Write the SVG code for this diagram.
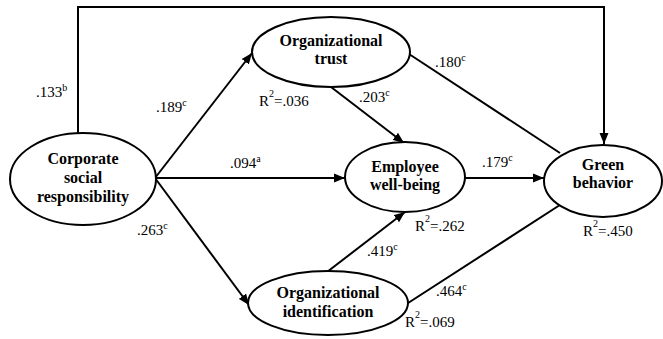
<svg xmlns="http://www.w3.org/2000/svg" width="663" height="339" viewBox="0 0 663 339">
<style>
.node ellipse{fill:#fff;stroke:#000;stroke-width:2}
.node text{font-family:'Times New Roman',Times,'Liberation Serif','Noto Serif',Tinos,FreeSerif,serif;font-weight:bold;font-size:16px;text-anchor:middle;fill:#000}
.lbl{font-family:'Times New Roman',Times,'Liberation Serif','Noto Serif',Tinos,FreeSerif,serif;font-size:15px;fill:#000}
.sup{font-size:10px}
#connectors line,#connectors polyline{stroke:#000;stroke-width:2;fill:none}
</style>
<defs>
<marker id="arr" markerUnits="userSpaceOnUse" markerWidth="12" markerHeight="10" refX="11" refY="5" orient="auto">
<path d="M0,0.5 L11,5 L0,9.5 Z" fill="#000"/>
</marker>
</defs>
<rect width="663" height="339" fill="#fff"/>
<g id="connectors">
<polyline points="78,133 78,7 604,7 604,144" marker-end="url(#arr)"/>
<line x1="155" y1="178" x2="252" y2="53" marker-end="url(#arr)"/>
<line x1="155" y1="178" x2="345" y2="178" marker-end="url(#arr)"/>
<line x1="155" y1="178" x2="249" y2="305" marker-end="url(#arr)"/>
<line x1="331" y1="87" x2="404" y2="143" marker-end="url(#arr)"/>
<line x1="327" y1="272" x2="405" y2="212" marker-end="url(#arr)"/>
<line x1="465" y1="178" x2="544" y2="178" marker-end="url(#arr)"/>
<line x1="409" y1="54" x2="560" y2="153"/>
<line x1="405" y1="305" x2="563" y2="203"/>
</g>
<g id="csr" class="node">
<ellipse cx="83" cy="179" rx="73" ry="46"/>
<text x="83" y="164">Corporate</text>
<text x="83" y="183">social</text>
<text x="83" y="202">responsibility</text>
</g>
<g id="trust" class="node">
<ellipse cx="331" cy="52" rx="79" ry="35"/>
<text x="331" y="46">Organizational</text>
<text x="331" y="64">trust</text>
</g>
<g id="wellbeing" class="node">
<ellipse cx="405" cy="177" rx="60" ry="35"/>
<text x="405" y="172">Employee</text>
<text x="405" y="190">well-being</text>
</g>
<g id="green" class="node">
<ellipse cx="603" cy="181" rx="59" ry="36"/>
<text x="603" y="170">Green</text>
<text x="603" y="188">behavior</text>
</g>
<g id="identification" class="node">
<ellipse cx="328" cy="303" rx="80" ry="32"/>
<text x="328" y="298">Organizational</text>
<text x="328" y="317">identification</text>
</g>
<g id="labels">
<text class="lbl" x="36" y="97">.133<tspan class="sup" dy="-6">b</tspan></text>
<text class="lbl" x="156" y="112">.189<tspan class="sup" dy="-6">c</tspan></text>
<text class="lbl" x="259" y="106">R<tspan class="sup" dy="-9">2</tspan><tspan dy="9">=.036</tspan></text>
<text class="lbl" x="230" y="168">.094<tspan class="sup" dy="-6">a</tspan></text>
<text class="lbl" x="435" y="67">.180<tspan class="sup" dy="-6">c</tspan></text>
<text class="lbl" x="359" y="102">.203<tspan class="sup" dy="-6">c</tspan></text>
<text class="lbl" x="482" y="167">.179<tspan class="sup" dy="-6">c</tspan></text>
<text class="lbl" x="137" y="235">.263<tspan class="sup" dy="-6">c</tspan></text>
<text class="lbl" x="415" y="231">R<tspan class="sup" dy="-9">2</tspan><tspan dy="9">=.262</tspan></text>
<text class="lbl" x="583" y="236">R<tspan class="sup" dy="-9">2</tspan><tspan dy="9">=.450</tspan></text>
<text class="lbl" x="367" y="256">.419<tspan class="sup" dy="-6">c</tspan></text>
<text class="lbl" x="436" y="296">.464<tspan class="sup" dy="-6">c</tspan></text>
<text class="lbl" x="405" y="327">R<tspan class="sup" dy="-9">2</tspan><tspan dy="9">=.069</tspan></text>
</g>
</svg>
